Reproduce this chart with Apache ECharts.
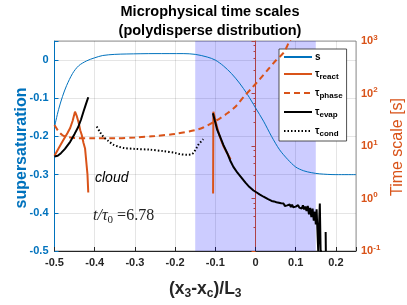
<!DOCTYPE html>
<html><head><meta charset="utf-8">
<script src="https://cdn.jsdelivr.net/npm/echarts@6/dist/echarts.min.js"></script>
<style>html,body{margin:0;padding:0;background:#fff}#c{width:407px;height:305px}</style>
</head><body><div id="c"></div>
<script>
// ---- data ----
const xTickLabels = ['-0.5','-0.4','-0.3','-0.2','-0.1','0','0.1','0.2'];
const leftTickLabels = ['-0.5','-0.4','-0.3','-0.2','-0.1','0'];
const rightTickLabels = ['10^-1','10^0','10^1','10^2','10^3'];
const cloudRegion = [-0.15, 0.15];

// supersaturation s (left axis)
const sX = [-0.5,-0.49,-0.48,-0.47,-0.455,-0.44,-0.42,-0.40,-0.38,-0.35,-0.32,-0.25,-0.18,-0.15,-0.12,-0.10,-0.08,-0.06,-0.04,-0.02,0.0,0.02,0.04,0.06,0.08,0.10,0.12,0.14,0.16,0.20,0.25];
const sY = [-0.175,-0.13,-0.095,-0.067,-0.035,-0.015,-0.002,0.006,0.012,0.015,0.016,0.017,0.017,0.015,0.008,0.0,-0.015,-0.035,-0.06,-0.09,-0.125,-0.16,-0.20,-0.235,-0.26,-0.28,-0.29,-0.295,-0.298,-0.30,-0.30];

// tau_react (right axis), two spikes
const reactX1 = [-0.5,-0.49,-0.478,-0.468,-0.461,-0.455,-0.449,-0.445,-0.44,-0.436,-0.432,-0.428,-0.424,-0.42,-0.418,-0.416];
const reactY1 = [6.5,9,13,17.5,22,30,45,38,28,20,16,11.5,9.0,4.2,2.9,1.3];
const reactX2 = [-0.1055,-0.1048,-0.102,-0.097,-0.09,-0.08,-0.07,-0.062];
const reactY2 = [1.25,45,37,25,16,10,7.2,5.6];

// tau_phase
const phaseX = [-0.5,-0.49,-0.48,-0.47,-0.45,-0.40,-0.35,-0.30,-0.25,-0.20,-0.15,-0.13,-0.11,-0.09,-0.07,-0.05,-0.03,-0.01,0.01,0.03,0.05,0.07,0.085,0.095];
const phaseY = [25,19,16,15,14.2,14,14,14.5,15.5,17,20,22.5,27,33,42,56,85,125,185,280,420,600,1000,1300];

// tau_evap
const evapX1 = [-0.5,-0.492,-0.484,-0.474,-0.461,-0.45,-0.441,-0.434,-0.428,-0.422,-0.416];
const evapY1 = [6.3,6.5,7.3,8.8,12,17,23,32,45,62,85];
const evapX2 = [-0.106,-0.1,-0.095,-0.088,-0.08,-0.07,-0.063,-0.055,-0.045,-0.035,-0.025,-0.015,-0.005,0.003,0.01,0.02,0.03,0.04,0.043,0.046,0.049,0.052,0.055,0.058,0.061,0.064,0.067,0.07,0.073,0.076,0.079,0.082,0.085,0.088,0.091,0.094,0.097,0.1,0.103,0.106,0.109,0.112,0.115,0.118,0.121,0.124,0.127,0.13,0.133,0.136,0.139,0.142,0.145,0.148,0.15,0.152,0.154,0.156,0.158,0.16,0.162,0.165];
const evapY2 = [42,28,20,15,10.5,7.2,5.3,4.0,3.1,2.5,2.0,1.65,1.42,1.3,1.2,1.08,0.98,0.90,0.86,0.88,0.82,0.85,0.79,0.83,0.77,0.81,0.75,0.80,0.72,0.78,0.74,0.70,0.77,0.69,0.76,0.68,0.74,0.70,0.66,0.75,0.67,0.72,0.64,0.74,0.62,0.70,0.58,0.72,0.50,0.66,0.44,0.64,0.38,0.56,0.32,0.62,0.25,0.1,0.1,0.8,0.1,0.1];
const evapX3 = [0.1745,0.175];
const evapY3 = [0.23,0.1];

// tau_cond
const condX = [-0.395,-0.387,-0.379,-0.366,-0.354,-0.34,-0.329,-0.3,-0.262,-0.23,-0.2,-0.188,-0.17,-0.16,-0.155,-0.148,-0.142,-0.136,-0.13];
const condY = [23.5,18.5,15.2,12.5,10.6,9.7,9.2,8.8,8.5,8.0,7.4,7.0,6.8,6.9,7.3,8.8,10.6,12,13.5];

// ---- build ----
const zip = (xs, ys) => xs.map((x, i) => [x, ys[i]]);
const joinSeg = (...segs) => segs.reduce((acc, s, i) => i ? acc.concat([[ '-', '-' ]], s) : acc.concat(s), []);
const BLUE = '#0072BD', ORANGE = '#D95319', AX = '#262626';

const legendNames = {
  's': 's',
  'τreact': '{t|τ}{sub|react}',
  'τphase': '{t|τ}{sub|phase}',
  'τevap': '{t|τ}{sub|evap}',
  'τcond': '{t|τ}{sub|cond}'
};

const chart = echarts.init(document.getElementById('c'), null, {renderer: 'canvas'});
const option = {
  animation: false,
  backgroundColor: '#fff',
  title: {
    text: 'Microphysical time scales\n(polydisperse distribution)',
    left: 205, top: -2, textAlign: 'center',
    textStyle: {fontFamily: 'Liberation Sans', fontWeight: 'bold', fontSize: 14.5, lineHeight: 18.5, color: '#000'}
  },
  grid: {left: 54.5, right: 51, top: 41, bottom: 50, show: true, borderColor: '#999', borderWidth: 1, backgroundColor: 'transparent'},
  legend: {
    orient: 'vertical', left: 279, top: 49,
    padding: [3, 4, 3, 4], itemWidth: 28, itemHeight: 10, itemGap: 7,
    backgroundColor: '#fff', borderColor: AX, borderWidth: 0.8, borderRadius: 0,
    itemStyle: {opacity: 0},
    data: ['s', 'τreact', 'τphase', 'τevap', 'τcond'],
    formatter: n => legendNames[n],
    textStyle: {
      fontFamily: 'Liberation Sans', fontSize: 10, fontWeight: 'bold', color: '#000', padding: [0,0,0,-2],
      rich: {
        t: {fontFamily: 'Liberation Sans', fontSize: 10, color: '#000', verticalAlign: 'middle'},
        sub: {fontFamily: 'Liberation Sans', fontSize: 8, fontWeight: 'bold', color: '#000', verticalAlign: 'bottom', padding: [6,0,0,0]}
      }
    }
  },
  xAxis: {
    type: 'value', min: -0.5, max: 0.25, interval: 0.1,
    name: '(x{sub|3}-x{sub|c})/L{sub|3}', nameLocation: 'middle', nameGap: 27,
    nameTextStyle: {fontFamily: 'Liberation Sans', fontSize: 17.5, fontWeight: 'bold', color: AX,
      rich: {sub: {fontFamily: 'Liberation Sans', fontSize: 12, fontWeight: 'bold', color: AX, verticalAlign: 'bottom', padding: [10,0,0,0]}}},
    axisLine: {show: true, onZero: false, lineStyle: {color: AX, width: 1}},
    axisTick: {inside: true, length: 4, lineStyle: {color: AX}},
    axisLabel: {fontFamily: 'Liberation Sans', fontSize: 11, fontWeight: 'bold', color: AX, margin: 6,
      formatter: v => xTickLabels[Math.round((v + 0.5) / 0.1)] || ''},
    splitLine: {show: true, lineStyle: {color: 'rgba(38,38,38,0.12)', width: 1}}
  },
  yAxis: [
    {
      type: 'value', min: -0.5, max: 0.05, interval: 0.1, position: 'left',
      axisLine: {show: true, onZero: false, lineStyle: {color: BLUE, width: 1}},
      axisTick: {show: true, inside: true, length: 4, lineStyle: {color: BLUE}},
      axisLabel: {fontFamily: 'Liberation Sans', fontSize: 11, fontWeight: 'bold', color: BLUE, margin: 6,
        formatter: v => leftTickLabels[Math.round((v + 0.5) / 0.1)] || ''},
      splitLine: {show: true, lineStyle: {color: 'rgba(38,38,38,0.12)', width: 1}}
    },
    {
      type: 'log', min: 0.1, max: 1000, logBase: 10, position: 'right',
      axisLine: {show: true, lineStyle: {color: ORANGE, width: 1}},
      axisTick: {show: true, inside: true, length: 4, lineStyle: {color: ORANGE}},
      minorTick: {show: true, splitNumber: 5, length: 2, lineStyle: {color: ORANGE}},
      axisLabel: {fontFamily: 'Liberation Sans', fontSize: 11, fontWeight: 'bold', color: ORANGE, margin: 5,
        formatter: v => {
          const idx = Math.round(Math.log10(v)) + 1;
          const lab = rightTickLabels[idx] || '';
          const p = lab.split('^');
          return p[0] + '{sup|' + p[1] + '}';
        },
        rich: {sup: {fontFamily: 'Liberation Sans', fontSize: 8, fontWeight: 'bold', color: ORANGE, verticalAlign: 'top', padding: [0,0,7,0]}}},
      splitLine: {show: false}
    }
  ],
  graphic: [
    {type: 'text', x: 21.5, y: 148, rotation: Math.PI / 2,
      style: {text: 'supersaturation', fontFamily: 'Liberation Sans', fontSize: 16, fontWeight: 'bold', fill: BLUE, align: 'center', verticalAlign: 'middle'}},
    {type: 'text', x: 397.5, y: 147, rotation: Math.PI / 2,
      style: {text: 'Time scale [s]', fontFamily: 'Liberation Sans', fontSize: 16, fill: ORANGE, align: 'center', verticalAlign: 'middle'}},
    {type: 'text', x: 95, y: 178, z: 50,
      style: {text: 'cloud', fontFamily: 'Liberation Sans', fontSize: 14, fontStyle: 'italic', fill: '#000', align: 'left', verticalAlign: 'middle'}},
    {type: 'text', x: 93, y: 216, z: 50,
      style: {text: '{i|t/τ}{s|0}{n| =6.78}', fontFamily: 'Liberation Serif', fontSize: 16, fill: '#222', align: 'left', verticalAlign: 'middle',
        rich: {
          i: {fontFamily: 'Liberation Serif', fontStyle: 'italic', fontSize: 16, fill: '#222'},
          s: {fontFamily: 'Liberation Serif', fontSize: 11, fill: '#222', verticalAlign: 'bottom', padding: [8,0,0,0]},
          n: {fontFamily: 'Liberation Serif', fontSize: 16, fill: '#222'}
        }}}
  ],
  series: [
    {name: 's', type: 'line', yAxisIndex: 0, data: zip(sX, sY), symbol: 'none', smooth: 0.3,
      lineStyle: {color: BLUE, width: 1}, itemStyle: {color: BLUE}, z: 3,
      markArea: {silent: true, itemStyle: {color: 'rgba(0,0,255,0.2)'}, data: [[{xAxis: cloudRegion[0]}, {xAxis: cloudRegion[1]}]]}},
    {name: 'τreact', type: 'line', yAxisIndex: 1, data: joinSeg(zip(reactX1, reactY1), zip(reactX2, reactY2)), symbol: 'none', connectNulls: false,
      lineStyle: {color: ORANGE, width: 2}, itemStyle: {color: ORANGE}, z: 4},
    {name: 'τphase', type: 'line', yAxisIndex: 1, data: zip(phaseX, phaseY), symbol: 'none', smooth: 0.3,
      lineStyle: {color: ORANGE, width: 2, type: [6, 4]}, itemStyle: {color: ORANGE}, z: 5},
    {name: 'τevap', type: 'line', yAxisIndex: 1, data: joinSeg(zip(evapX1, evapY1), zip(evapX2, evapY2), zip(evapX3, evapY3)), symbol: 'none', connectNulls: false,
      lineStyle: {color: '#000', width: 2}, itemStyle: {color: '#000'}, z: 6},
    {name: 'τcond', type: 'line', yAxisIndex: 1, data: zip(condX, condY), symbol: 'none', smooth: 0.3,
      lineStyle: {color: '#000', width: 2, type: [1.5, 2]}, itemStyle: {color: '#000'}, z: 7}
  ]
};
chart.setOption(option);
</script></body></html>
